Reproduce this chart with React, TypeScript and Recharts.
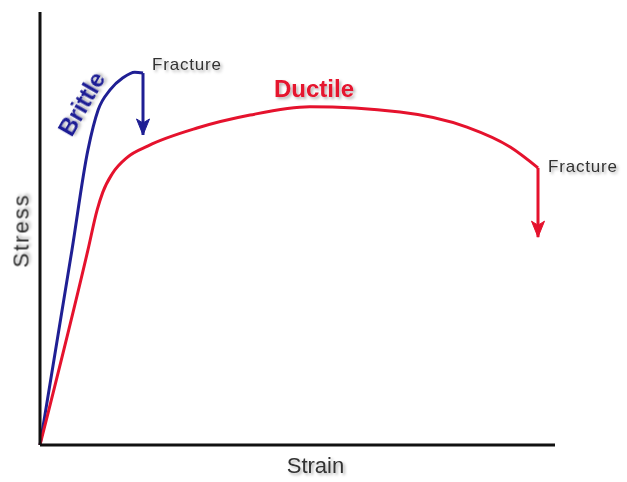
import { Line, LineChart, XAxis, YAxis, ReferenceDot } from "recharts";

// strain (x, 0-100) vs stress (y, 0-100), arbitrary units
const brittle = [
  { x: 0, y: 0 },
  { x: 6.2, y: 45.0 },
  { x: 9.3, y: 68.1 },
  { x: 11.3, y: 77.4 },
  { x: 13.6, y: 82.0 },
  { x: 16.1, y: 84.8 },
  { x: 18.4, y: 86.1 },
  { x: 20.0, y: 85.9 },
];
const brittleFracture = [
  { x: 20.0, y: 85.9 },
  { x: 20.0, y: 71.6 },
];

const ductile = [
  { x: 0, y: 0 },
  { x: 9.3, y: 45.0 },
  { x: 11.1, y: 54.3 },
  { x: 12.2, y: 58.4 },
  { x: 14.0, y: 62.6 },
  { x: 17.0, y: 66.5 },
  { x: 21.0, y: 69.1 },
  { x: 30.5, y: 73.2 },
  { x: 40.8, y: 76.2 },
  { x: 52.4, y: 78.1 },
  { x: 69.9, y: 76.9 },
  { x: 82.9, y: 73.4 },
  { x: 91.3, y: 68.8 },
  { x: 96.7, y: 64.0 },
];
const ductileFracture = [
  { x: 96.7, y: 64.0 },
  { x: 96.7, y: 48.0 },
];

const BLUE = "#1f1f94";
const RED = "#e5122d";
const FONT = "'Liberation Sans', Arial, sans-serif";

const arrowHead = (color: string) => (props: any) => {
  const { cx, cy, index } = props;
  if (index !== 1) return <g key={`d${index}`} />;
  return (
    <polygon
      key={`d${index}`}
      points={`${cx},${cy} ${cx - 6.5},${cy - 16} ${cx},${cy - 12} ${cx + 6.5},${cy - 16}`}
      fill={color}
      stroke={color}
      strokeWidth={1}
    />
  );
};

const textLabel =
  (text: string, dx: number, dy: number, style: any, angle = 0) =>
  (props: any) => {
    const vb = props.viewBox || {};
    const x = (vb.x ?? 0) + (vb.width ?? 0) / 2 + dx;
    const y = (vb.y ?? 0) + (vb.height ?? 0) / 2 + dy;
    return (
      <text
        x={x}
        y={y}
        fontFamily={FONT}
        filter="url(#shadow)"
        transform={angle ? `rotate(${angle} ${x} ${y})` : undefined}
        {...style}
      >
        {text}
      </text>
    );
  };

export default function App() {
  return (
    <div style={{ position: "absolute", left: 0, top: 0, background: "#fff" }}>
      <LineChart width={627} height={482} margin={{ top: 12, right: 72, left: 0, bottom: 0 }}>
        <defs>
          <filter id="shadow" x="-20%" y="-20%" width="140%" height="160%">
            <feDropShadow dx="2" dy="2" stdDeviation="1.5" floodColor="#000" floodOpacity="0.3" />
          </filter>
        </defs>
        <XAxis
          type="number"
          dataKey="x"
          domain={[0, 100]}
          height={37}
          tick={false}
          tickLine={false}
          axisLine={{ stroke: "#111", strokeWidth: 3 }}
          label={{
            content: textLabel("Strain", 18, 4, { fontSize: 22, fill: "#333", textAnchor: "middle", dominantBaseline: "middle" }),
          }}
        />
        <YAxis
          type="number"
          domain={[0, 100]}
          width={40}
          tick={false}
          tickLine={false}
          axisLine={{ stroke: "#111", strokeWidth: 3 }}
          label={{
            content: textLabel("Stress", 8, 2, { fontSize: 22, fill: "#333", textAnchor: "middle", letterSpacing: 2 }, -90),
          }}
        />
        <Line data={brittle} dataKey="y" type="monotone" stroke={BLUE} strokeWidth={3} dot={false} isAnimationActive={false} />
        <Line
          data={brittleFracture}
          dataKey="y"
          type="linear"
          stroke={BLUE}
          strokeWidth={3}
          dot={arrowHead(BLUE)}
          activeDot={false}
          isAnimationActive={false}
        />
        <Line data={ductile} dataKey="y" type="monotone" stroke={RED} strokeWidth={3} dot={false} isAnimationActive={false} />
        <Line
          data={ductileFracture}
          dataKey="y"
          type="linear"
          stroke={RED}
          strokeWidth={3}
          dot={arrowHead(RED)}
          activeDot={false}
          isAnimationActive={false}
        />
        <ReferenceDot
          x={20.0}
          y={85.9}
          r={1}
          fill="none"
          stroke="none"
          label={{ content: textLabel("Fracture", 9, -3, { fontSize: 17, fill: "#333", letterSpacing: 0.8 }) }}
        />
        <ReferenceDot
          x={96.7}
          y={64.0}
          r={1}
          fill="none"
          stroke="none"
          label={{ content: textLabel("Fracture", 10, 4, { fontSize: 17, fill: "#333", letterSpacing: 0.8 }) }}
        />
        <ReferenceDot
          x={53.2}
          y={80.4}
          r={1}
          fill="none"
          stroke="none"
          label={{ content: textLabel("Ductile", 0, 0, { fontSize: 24, fontWeight: "bold", fill: RED, textAnchor: "middle" }) }}
        />
        <ReferenceDot
          x={8.7}
          y={79.7}
          r={1}
          fill="none"
          stroke="none"
          label={{
            content: textLabel("Brittle", 4, 8, { fontSize: 24, fontWeight: "bold", fill: BLUE, textAnchor: "middle" }, -60),
          }}
        />
      </LineChart>
    </div>
  );
}
